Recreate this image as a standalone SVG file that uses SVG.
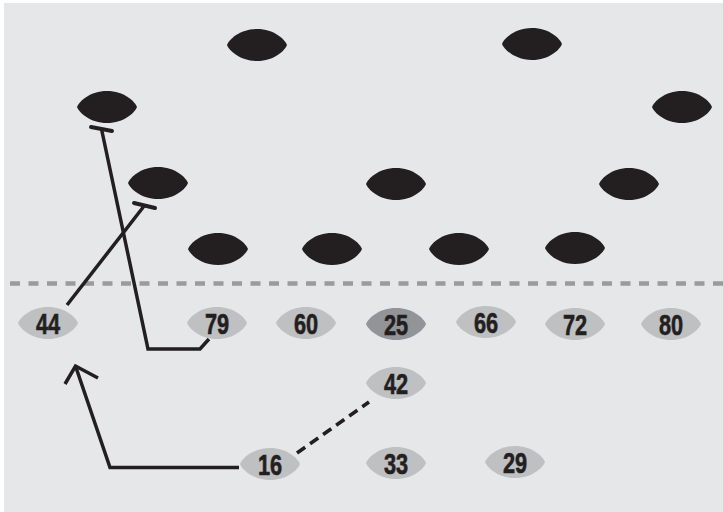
<svg xmlns="http://www.w3.org/2000/svg" xmlns:xlink="http://www.w3.org/1999/xlink" width="723" height="512" viewBox="0 0 723 512">
  <style>
    .def { fill: #231f20; }
    .off { fill: #bfc0c2; }
    .ball-carrier { fill: #929497; }
    .num { font-family: "Liberation Sans", Arial, sans-serif; font-weight: bold; font-size: 29px; fill: #231f20; stroke: #231f20; stroke-width: 0.6; text-anchor: middle; }
    .route { fill: none; stroke: #231f20; stroke-width: 3.5; stroke-linecap: butt; stroke-linejoin: miter; }
    .block { fill: none; stroke: #231f20; stroke-width: 4; stroke-linecap: round; }
    .motion { fill: none; stroke: #231f20; stroke-width: 3.6; stroke-dasharray: 10 6; }
    .scrimmage { fill: none; stroke: #9a9b9d; stroke-width: 4.5; stroke-dasharray: 10 8.5; }
  </style>
  <defs>
    <!-- football outline: a lens with slightly blunt points -->
    <path id="ball" d="M-30,0 C-28,-5.5 -17,-16 0,-16 C17,-16 28,-5.5 30,0 C28,5.5 17,16 0,16 C-17,16 -28,5.5 -30,0 Z"/>
  </defs>

  <rect width="723" height="512" fill="#ffffff"/>
  <rect x="4" y="3" width="719" height="509" fill="#e6e7e8"/>

  <!-- line of scrimmage -->
  <line class="scrimmage" x1="10" y1="283.5" x2="723" y2="283.5"/>

  <!-- defence -->
  <g id="defence">
    <g id="d1"><use xlink:href="#ball" class="def" transform="translate(257,45)"/></g>
    <g id="d2"><use xlink:href="#ball" class="def" transform="translate(532,44)"/></g>
    <g id="d3"><use xlink:href="#ball" class="def" transform="translate(107,107)"/></g>
    <g id="d4"><use xlink:href="#ball" class="def" transform="translate(682,107)"/></g>
    <g id="d5"><use xlink:href="#ball" class="def" transform="translate(158,183)"/></g>
    <g id="d6"><use xlink:href="#ball" class="def" transform="translate(396,184)"/></g>
    <g id="d7"><use xlink:href="#ball" class="def" transform="translate(629,184)"/></g>
    <g id="d8"><use xlink:href="#ball" class="def" transform="translate(218,249)"/></g>
    <g id="d9"><use xlink:href="#ball" class="def" transform="translate(332,249)"/></g>
    <g id="d10"><use xlink:href="#ball" class="def" transform="translate(459,249)"/></g>
    <g id="d11"><use xlink:href="#ball" class="def" transform="translate(575,248)"/></g>
  </g>

  <!-- offence -->
  <g id="p44" transform="translate(48,323)"><use xlink:href="#ball" class="off"/><text class="num" y="10.5" transform="scale(0.75,1)">44</text></g>
  <g id="p79" transform="translate(217,323)"><use xlink:href="#ball" class="off"/><text class="num" y="10.5" transform="scale(0.75,1)">79</text></g>
  <g id="p60" transform="translate(306,323)"><use xlink:href="#ball" class="off"/><text class="num" y="10.5" transform="scale(0.75,1)">60</text></g>
  <g id="p25" transform="translate(396,324)"><use xlink:href="#ball" class="ball-carrier"/><text class="num" y="10.5" transform="scale(0.75,1)">25</text></g>
  <g id="p66" transform="translate(486,322)"><use xlink:href="#ball" class="off"/><text class="num" y="10.5" transform="scale(0.75,1)">66</text></g>
  <g id="p72" transform="translate(575,324)"><use xlink:href="#ball" class="off"/><text class="num" y="10.5" transform="scale(0.75,1)">72</text></g>
  <g id="p80" transform="translate(671,324)"><use xlink:href="#ball" class="off"/><text class="num" y="10.5" transform="scale(0.75,1)">80</text></g>
  <g id="p42" transform="translate(396,383)"><use xlink:href="#ball" class="off"/><text class="num" y="10.5" transform="scale(0.75,1)">42</text></g>
  <g id="p16" transform="translate(270,464)"><use xlink:href="#ball" class="off"/><text class="num" y="10.5" transform="scale(0.75,1)">16</text></g>
  <g id="p33" transform="translate(396,463)"><use xlink:href="#ball" class="off"/><text class="num" y="10.5" transform="scale(0.75,1)">33</text></g>
  <g id="p29" transform="translate(515,462)"><use xlink:href="#ball" class="off"/><text class="num" y="10.5" transform="scale(0.75,1)">29</text></g>

  <!-- assignments -->
  <g id="connectors">
    <!-- 44 blocks the linebacker -->
    <line class="route" x1="67" y1="305" x2="144.5" y2="205.5"/>
    <line class="block" x1="134" y1="203" x2="155" y2="208"/>
    <!-- 79 pulls and blocks the end -->
    <polyline class="route" points="209,339 200,349 148,349 101.5,129"/>
    <line class="block" x1="91" y1="127" x2="112" y2="131"/>
    <!-- 16 rolls out -->
    <polyline class="route" points="239,467.5 110,467.5 75.5,366"/>
    <polyline class="route" points="65,384 75.5,366 98,378"/>
    <!-- 16 pitch relation to 42 -->
    <line class="motion" x1="297" y1="453" x2="369" y2="402"/>
  </g>
</svg>
